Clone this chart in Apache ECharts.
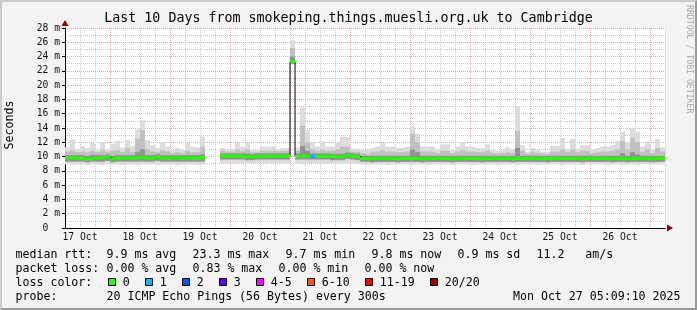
<!DOCTYPE html>
<html><head><meta charset="utf-8">
<script src="https://cdn.jsdelivr.net/npm/echarts@6/dist/echarts.min.js"></script>
<style>
html,body{margin:0;padding:0;background:#f3f3f3;}
#wrap{position:relative;width:697px;height:310px;}
#chart{width:697px;height:310px;}
#frame{position:absolute;left:0;top:0;width:697px;height:310px;box-sizing:border-box;border-style:solid;border-width:2px;border-color:#cbcbcb #999 #999 #cbcbcb;pointer-events:none;}
</style></head><body>
<div id="wrap"><div id="chart"></div><div id="frame"></div></div>
<script>
// x axis: hours since midnight 17 Oct; one bin = 2 hours starting at hour 6
const START_HOUR = 6, BIN_HOURS = 2, END_HOUR = 246;
const dayLabels = ['17 Oct','18 Oct','19 Oct','20 Oct','21 Oct','22 Oct','23 Oct','24 Oct','25 Oct','26 Oct'];

const medianRtt = [
 9.80,9.80,9.78,9.75,9.66,9.70,9.80,9.82,9.92,9.66,
 9.78,9.80,9.80,9.78,9.80,9.86,9.80,9.78,9.92,9.80,
 9.78,9.80,9.84,9.78,9.80,9.80,9.78,9.80,null,null,
 null,10.08,10.05,10.08,10.05,10.05,9.96,9.92,10.02,10.05,
 10.08,10.05,10.08,10.05,10.08,23.3,10.05,10.05,10.05,10.02,
 10.05,10.05,10.08,10.00,9.95,9.98,10.15,10.05,9.98,9.72,
 9.70,9.68,9.72,9.74,9.72,9.72,9.70,9.72,9.74,9.72,
 9.72,9.70,9.72,9.72,9.74,9.72,9.72,9.70,9.72,9.72,
 9.74,9.72,9.72,9.70,9.72,9.72,9.74,9.72,9.72,9.70,
 9.72,9.72,9.72,9.74,9.72,9.72,9.70,9.72,9.72,9.72,
 9.74,9.72,9.72,9.70,9.72,9.72,9.72,9.74,9.72,9.70,
 9.72,9.72,9.68,9.72,9.72,9.74,9.72,9.70,9.72,9.78];

const lossClass = [
 0,0,0,0,0,0,0,0,0,0, 0,0,0,0,0,0,0,0,0,0, 0,0,0,0,0,0,0,0,0,0,
 0,0,0,0,0,0,0,0,0,0, 0,0,0,0,0,0,0,0,0,1, 0,0,0,0,0,0,0,0,0,0,
 0,0,0,0,0,0,0,0,0,0, 0,0,0,0,0,0,0,0,0,0, 0,0,0,0,0,0,0,0,0,0,
 0,0,0,0,0,0,0,0,0,0, 0,0,0,0,0,0,0,0,0,0, 0,0,0,0,0,0,0,0,0,0];

const smokeHi = [
 11.3,12.4,11.0,11.5,11.2,11.9,11.0,12.0,11.0,11.8,
 12.2,11.3,12.3,11.5,13.8,15.1,12.3,11.6,11.2,12.0,
 11.4,10.9,11.2,10.9,11.9,11.4,11.3,12.8,null,null,
 null,11.2,11.0,11.0,11.9,11.4,11.9,10.9,10.9,11.4,
 11.4,11.4,11.0,11.2,11.2,26.3,11.2,16.9,13.7,12.0,
 11.4,12.1,11.4,11.4,11.9,12.8,12.8,11.1,11.1,10.9,
 10.9,11.2,11.4,11.9,11.4,11.4,11.2,11.2,11.4,14.2,
 13.2,11.4,11.4,11.4,10.9,11.7,11.7,10.9,11.4,12.0,
 11.4,11.4,11.2,11.2,11.7,10.9,10.8,10.9,11.3,11.0,
 17.1,11.6,10.7,11.2,10.9,10.7,10.7,11.5,11.5,12.6,
 11.1,12.5,11.1,11.6,11.6,11.0,11.2,11.4,11.4,11.6,
 12.2,13.5,12.0,14.0,13.5,11.4,12.1,11.0,12.5,11.3];

const smokeMid = [
 10.7,10.9,10.6,10.7,10.6,10.8,10.6,10.9,10.6,10.8,
 10.9,10.6,11.2,10.7,12.5,13.7,11.0,10.7,10.6,10.9,
 10.7,10.5,10.6,10.5,10.8,10.6,10.6,11.4,null,null,
 null,10.8,10.7,10.7,11.0,10.8,11.0,10.6,10.6,10.8,
 10.8,10.8,10.7,10.8,10.8,25.2,10.8,14.3,12.0,11.0,
 10.8,11.0,10.8,10.8,11.0,11.4,11.4,10.7,10.7,10.5,
 10.4,10.6,10.7,10.9,10.7,10.7,10.6,10.6,10.7,13.2,
 12.0,10.7,10.7,10.7,10.5,10.8,10.8,10.5,10.7,10.9,
 10.7,10.7,10.6,10.6,10.8,10.5,10.4,10.5,10.6,10.5,
 13.6,10.8,10.4,10.6,10.5,10.4,10.4,10.7,10.7,11.0,
 10.6,11.0,10.6,10.8,10.8,10.5,10.6,10.7,10.7,10.8,
 11.0,12.2,11.0,12.6,12.0,10.7,11.0,10.5,11.2,10.7];

const smokeLo = [
 8.9,8.8,8.9,8.9,8.8,8.9,8.9,8.8,8.9,8.9,
 8.9,8.8,8.9,8.9,8.8,8.9,8.9,8.9,8.8,8.9,
 8.9,8.9,8.8,8.9,8.9,8.9,8.8,8.9,null,null,
 null,9.1,9.1,9.0,9.1,9.1,9.0,9.1,9.1,9.1,
 9.0,9.1,9.1,9.1,9.0,22.9,9.1,9.0,9.1,9.1,
 9.1,9.0,9.1,9.1,9.0,9.1,9.1,9.0,9.0,8.9,
 8.8,8.9,8.9,8.9,8.8,8.9,8.9,8.9,8.9,8.8,
 8.9,8.9,8.8,8.9,8.9,8.9,8.9,8.8,8.9,8.9,
 8.9,8.8,8.9,8.9,8.9,8.9,8.8,8.9,8.9,8.9,
 8.8,8.9,8.9,8.9,8.8,8.9,8.9,8.9,8.9,8.8,
 8.9,8.9,8.9,8.8,8.9,8.9,8.9,8.9,8.8,8.9,
 8.9,8.8,8.9,8.9,8.8,8.9,8.9,8.9,8.9,8.9];

const coreLo = [
 9.3,9.3,9.3,9.3,9.2,9.3,9.3,9.3,9.4,9.2,
 9.3,9.3,9.3,9.3,9.3,9.3,9.3,9.3,9.4,9.3,
 9.3,9.3,9.3,9.3,9.3,9.3,9.3,9.3,null,null,
 null,9.6,9.6,9.6,9.6,9.6,9.5,9.5,9.6,9.6,
 9.6,9.6,9.6,9.6,9.6,23.0,9.6,9.6,9.6,9.6,
 9.6,9.6,9.6,9.5,9.5,9.5,9.7,9.6,9.5,9.3,
 9.25,9.2,9.25,9.25,9.25,9.25,9.2,9.25,9.25,9.25,
 9.25,9.2,9.25,9.25,9.25,9.25,9.25,9.2,9.25,9.25,
 9.25,9.25,9.25,9.2,9.25,9.25,9.25,9.25,9.25,9.2,
 9.25,9.25,9.25,9.25,9.25,9.25,9.2,9.25,9.25,9.25,
 9.25,9.25,9.25,9.2,9.25,9.25,9.25,9.25,9.25,9.2,
 9.25,9.25,9.2,9.25,9.25,9.25,9.25,9.2,9.25,9.3];

const coreHi = [
 10.2,10.2,10.2,10.2,10.1,10.2,10.2,10.2,10.3,10.1,
 10.2,10.2,10.2,10.2,10.6,11.0,10.2,10.2,10.3,10.2,
 10.2,10.2,10.2,10.2,10.2,10.2,10.2,10.3,null,null,
 null,10.45,10.45,10.45,10.45,10.45,10.4,10.35,10.45,10.45,
 10.45,10.45,10.45,10.45,10.45,24.0,10.45,11.5,10.8,10.45,
 10.45,10.45,10.45,10.4,10.4,10.4,10.55,10.45,10.4,10.1,
 10.1,10.1,10.1,10.1,10.1,10.1,10.1,10.1,10.1,11.0,
 10.6,10.1,10.1,10.1,10.1,10.1,10.1,10.1,10.1,10.1,
 10.1,10.1,10.1,10.1,10.1,10.1,10.1,10.1,10.1,10.1,
 11.2,10.1,10.1,10.1,10.1,10.1,10.1,10.1,10.1,10.1,
 10.1,10.1,10.1,10.1,10.1,10.1,10.1,10.1,10.1,10.1,
 10.1,10.5,10.1,10.6,10.3,10.1,10.1,10.1,10.1,10.1];

const rttStats  = ['9.9 ms avg','23.3 ms max','9.7 ms min','9.8 ms now','0.9 ms sd','11.2   am/s'];
const lossStats = ['0.00 % avg','0.83 % max','0.00 % min','0.00 % now'];
const lossLegend = ['0','1','2','3','4-5','6-10','11-19','20/20'];
const lossColors = ['#26ff00','#00b8ff','#0059ff','#5e00ff','#ff00ff','#ff5500','#ff0000','#a10000'];
const probeText = '20 ICMP Echo Pings (56 Bytes) every 300s';
const stampText = 'Mon Oct 27 05:09:10 2025';
const titleText = 'Last 10 Days from smokeping.things.muesli.org.uk to Cambridge';

// ---------------------------------------------------------------
const MONO = '"DejaVu Sans Mono", monospace';
const LEG_FONT = '11.6px ' + MONO;
const CW = 7; // legend char advance

const smokeData = [], greenData = [], lineData = [];
for (let i = 0; i < medianRtt.length; i++) {
  const t = START_HOUR + i * BIN_HOURS;
  if (medianRtt[i] == null) { lineData.push([t, '-']); continue; }
  smokeData.push([t, smokeLo[i], smokeHi[i], smokeMid[i], coreLo[i], coreHi[i]]);
  greenData.push([t, medianRtt[i], lossClass[i]]);
  lineData.push([t, medianRtt[i]]);
}
lineData.push([START_HOUR + medianRtt.length * BIN_HOURS, medianRtt[medianRtt.length - 1]]);

function band(api, t, v0, v1, fill) {
  const a = api.coord([t, v1]), b = api.coord([t + BIN_HOURS, v0]);
  return { type: 'rect', shape: { x: a[0], y: a[1], width: b[0] - a[0], height: b[1] - a[1] }, style: { fill: fill } };
}

const graphics = [];
function txt(x, y, s, extra) {
  graphics.push(Object.assign({ type: 'text', x: x, y: y,
    style: { text: s, font: LEG_FONT, fill: '#000', align: 'left', verticalAlign: 'middle' } }, extra || {}));
}
const ROWS = [254.5, 268.5, 282.5, 296.5];
const COL0 = 15.5, COL1 = 106.5;
txt(COL0, ROWS[0], 'median rtt:');
txt(COL0, ROWS[1], 'packet loss:');
txt(COL0, ROWS[2], 'loss color:');
txt(COL0, ROWS[3], 'probe:');
let x = COL1;
rttStats.forEach(s => { txt(x, ROWS[0], s); x += s.length * CW + 16; });
x = COL1;
lossStats.forEach(s => { txt(x, ROWS[1], s); x += s.length * CW + 16; });
let bx = 108.5;
lossLegend.forEach((s, k) => {
  graphics.push({ type: 'rect', shape: { x: bx, y: 278.5, width: 7, height: 7 },
    style: { fill: lossColors[k], stroke: '#000', lineWidth: 1 } });
  txt(bx + 14.3, ROWS[2], s);
  bx += 30 + s.length * CW;
});
txt(COL1, ROWS[3], probeText);
graphics.push({ type: 'text', x: 680.5, y: ROWS[3],
  style: { text: stampText, font: LEG_FONT, fill: '#000', align: 'right', verticalAlign: 'middle' } });
graphics.push({ type: 'text', x: 10, y: 125, rotation: Math.PI / 2,
  style: { text: 'Seconds', font: LEG_FONT, fill: '#000', align: 'center', verticalAlign: 'middle' } });
graphics.push({ type: 'text', x: 689, y: 5, rotation: -Math.PI / 2,
  style: { text: 'RRDTOOL / TOBI OETIKER', font: '8.2px ' + MONO, fill: '#a8a8a8', align: 'left', verticalAlign: 'middle' } });

const minorGrid = { color: '#c8c8c8', type: [1, 1], width: 1 };
const majorGrid = { color: '#f2a0a0', type: [1, 1], width: 1 };
const AX_FONT = { fontFamily: MONO, fontSize: 9.7, color: '#111' };

const option = {
  animation: false,
  backgroundColor: '#f3f3f3',
  title: { text: titleText, left: 'center', top: 12, padding: 0,
    textStyle: { fontFamily: MONO, fontSize: 13.3, fontWeight: 'normal', color: '#000' } },
  grid: [
    { left: 65, top: 28, width: 600, height: 200, show: true, backgroundColor: '#fff', borderWidth: 0 },
    { left: 110, top: 28, width: 540, height: 200, show: false }
  ],
  xAxis: [
    { gridIndex: 0, type: 'value', min: START_HOUR, max: END_HOUR, interval: 6, position: 'bottom', offset: 0, z: 1,
      axisLine: { show: true, onZero: false, lineStyle: { color: '#000', width: 1 } },
      axisTick: { show: false },
      axisLabel: Object.assign({ margin: 4, formatter: v => ((v - 12) % 24 === 0 ? (dayLabels[(v - 12) / 24] || '') : '') }, AX_FONT),
      splitLine: { show: true, lineStyle: minorGrid } },
    { gridIndex: 0, type: 'value', min: START_HOUR, max: END_HOUR, position: 'bottom', offset: 0, z: 0,
      axisLine: { show: true, onZero: false, symbol: ['none', 'triangle'], symbolSize: [7, 6], symbolOffset: [0, 5],
        lineStyle: { color: '#900000', width: 1 } },
      axisTick: { show: false }, axisLabel: { show: false }, splitLine: { show: false } },
    { gridIndex: 1, type: 'value', min: 24, max: 240, interval: 24, position: 'bottom', z: 1,
      axisLine: { show: false }, axisTick: { show: false }, axisLabel: { show: false },
      splitLine: { show: true, lineStyle: majorGrid } }
  ],
  yAxis: [
    { gridIndex: 0, type: 'value', position: 'left', offset: 0, min: 0, max: 28, interval: 1, z: 1,
      axisLine: { show: false }, axisTick: { show: false }, axisLabel: { show: false },
      splitLine: { show: true, lineStyle: minorGrid } },
    { gridIndex: 0, type: 'value', position: 'left', offset: 0, min: 0, max: 28, interval: 2, z: 1,
      axisLine: { show: true, onZero: false, lineStyle: { color: '#000', width: 1 } },
      axisTick: { show: true, length: 3, lineStyle: { color: '#000' } },
      axisLabel: Object.assign({ margin: 5, formatter: v => (v === 0 ? '0  ' : v + ' m') }, AX_FONT),
      splitLine: { show: true, lineStyle: majorGrid } },
    { gridIndex: 0, type: 'value', position: 'left', offset: 0, min: 0, max: 28, z: 0,
      axisLine: { show: true, onZero: false, symbol: ['none', 'triangle'], symbolSize: [7, 6], symbolOffset: [0, 5],
        lineStyle: { color: '#900000', width: 1 } },
      axisTick: { show: false }, axisLabel: { show: false }, splitLine: { show: false } },
    { gridIndex: 1, type: 'value', position: 'left', min: 0, max: 28, show: false }
  ],
  series: [
    { type: 'custom', name: 'smoke', xAxisIndex: 0, yAxisIndex: 0, z: 2, silent: true,
      encode: { x: 0, y: [1, 2] }, data: smokeData,
      renderItem: (params, api) => {
        const t = api.value(0);
        return { type: 'group', children: [
          band(api, t, api.value(1), api.value(2), '#dcdcdc'),
          band(api, t, api.value(4), api.value(3), '#c0c0c0'),
          band(api, t, api.value(4), api.value(5), '#929292')
        ] };
      } },
    { type: 'line', name: 'median', xAxisIndex: 0, yAxisIndex: 0, z: 3, step: 'end', showSymbol: false,
      connectNulls: false, data: lineData, lineStyle: { color: '#000', width: 1 }, silent: true },
    { type: 'custom', name: 'loss', xAxisIndex: 0, yAxisIndex: 0, z: 4, silent: true,
      encode: { x: 0, y: 1 }, data: greenData,
      renderItem: (params, api) => {
        const t = api.value(0), m = api.value(1), c = api.value(2);
        const a = api.coord([t, m]), b = api.coord([t + BIN_HOURS, m]);
        return { type: 'line', shape: { x1: a[0], y1: a[1], x2: b[0], y2: b[1] },
          style: { stroke: lossColors[c], lineWidth: 3 } };
      } }
  ],
  graphic: graphics
};

const chart = echarts.init(document.getElementById('chart'), null, { renderer: 'canvas' });
chart.setOption(option);
</script>
</body></html>
